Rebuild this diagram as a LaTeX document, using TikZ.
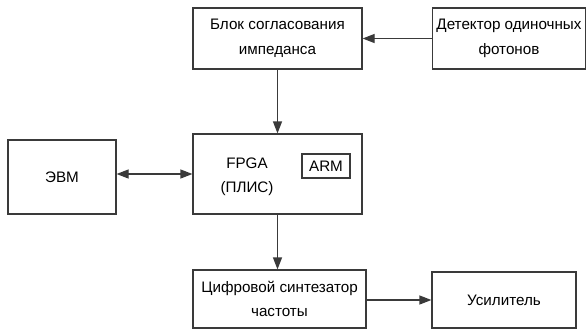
\documentclass[tikz,border=0pt]{standalone}
\usepackage{fontspec}
\setmainfont{Liberation Sans}
\usetikzlibrary{arrows.meta}
\definecolor{linec}{HTML}{3A3A3A}
\begin{document}
\begin{tikzpicture}[x=1pt,y=-1pt,
  box/.style={draw=linec, line width=1.2pt, rectangle, inner sep=0pt, align=center,
    font=\fontsize{15.2}{24.5}\selectfont, text=black},
  lbl/.style={inner sep=0pt, align=center, font=\fontsize{15.2}{24}\selectfont, text=black},
  arr/.style={draw=linec, line width=1.2pt, -{Triangle[length=12pt,width=9pt]}},
  arrb/.style={draw=linec, line width=1.2pt, {Triangle[length=12pt,width=9pt]}-{Triangle[length=12pt,width=9pt]}}
]
\useasboundingbox (0,0) rectangle (587,333);
\fill[white] (0,0) rectangle (587,333);

\node[box, minimum width=169pt, minimum height=61pt] (blk) at (277.5,38.5) {Блок согласования\\импеданса};
\node[box, minimum width=153pt, minimum height=61pt] (det) at (509,38.5) {Детектор одиночных\\фотонов};
\node[box, minimum width=108pt, minimum height=74pt] (evm) at (62,177) {ЭВМ};
\node[box, minimum width=169pt, minimum height=80pt] (fpga) at (277.5,174) {};
\node[lbl] (fpgat) at (247,177) {FPGA\\(ПЛИС)};
\node[box, minimum width=48pt, minimum height=24pt] (arm) at (326,166) {ARM};
\node[box, minimum width=173pt, minimum height=58pt] (syn) at (279.5,299) {Цифровой синтезатор\\частоты};
\node[box, minimum width=144pt, minimum height=56pt] (amp) at (504,300) {Усилитель};

\draw[arr] (det.west) -- (blk.east);
\draw[arr] (blk.south) -- (fpga.north);
\draw[arrb] (fpga.west -| evm.east) -- (fpga.west);
\draw[arr] (fpga.south) -- (fpga.south |- syn.north);
\draw[arr] (syn.east |- amp.west) -- (amp.west);
\end{tikzpicture}
\end{document}
